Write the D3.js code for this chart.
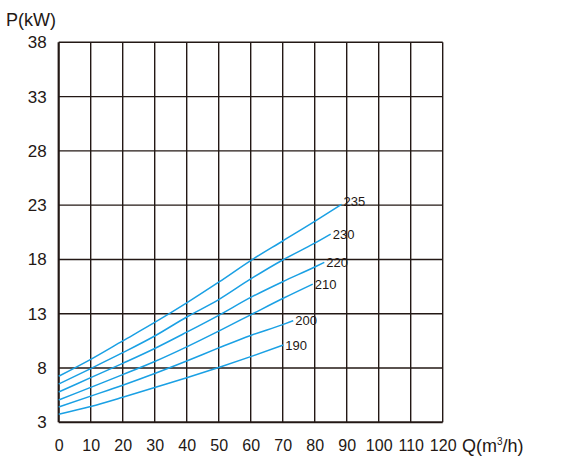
<!DOCTYPE html>
<html>
<head>
<meta charset="utf-8">
<script src="https://d3js.org/d3.v7.min.js"></script>
<style>
  body { margin: 0; background: #fff; }
  text { font-family: "Liberation Sans", Arial, sans-serif; fill: #231815; }
</style>
</head>
<body>
<div id="chart"></div>
<script>
// Data: flow Q (m3/h) vs shaft power P (kW), one curve per impeller diameter
var xTicks = [0, 10, 20, 30, 40, 50, 60, 70, 80, 90, 100, 110, 120];
var yTicks = [3, 8, 13, 18, 23, 28, 33, 38];

var curveNames = ["235", "230", "220", "210", "200", "190"];

var q235 = [0, 10, 20, 30, 40, 50, 60, 70, 80, 88.4];
var p235 = [7.24, 8.8, 10.5, 12.2, 14.0, 15.9, 17.9, 19.7, 21.5, 23.07];

var q230 = [0, 10, 20, 30, 40, 50, 60, 70, 80, 85];
var p230 = [6.53, 7.95, 9.41, 10.95, 12.7, 14.3, 16.2, 17.95, 19.5, 20.34];

var q220 = [0, 10, 20, 30, 40, 50, 60, 70, 80, 83];
var p220 = [5.79, 7.11, 8.43, 9.8, 11.3, 12.85, 14.5, 15.95, 17.3, 17.73];

var q210 = [0, 10, 20, 30, 40, 50, 60, 70, 79.4];
var p210 = [5.05, 6.22, 7.39, 8.6, 9.95, 11.4, 12.9, 14.4, 15.73];

var q200 = [0, 10, 20, 30, 40, 50, 60, 70, 73.3];
var p200 = [4.41, 5.41, 6.42, 7.5, 8.65, 9.85, 11.0, 12.0, 12.36];

var q190 = [0, 10, 20, 30, 40, 50, 60, 70.2];
var p190 = [3.74, 4.45, 5.3, 6.2, 7.1, 8.05, 9.05, 10.12];

var curveQ = [q235, q230, q220, q210, q200, q190];
var curveP = [p235, p230, p220, p210, p200, p190];

// SVG area
var svgWidth = 567;
var svgHeight = 467;

var margin = { top: 42.3, right: 124.3, bottom: 44.7, left: 58.7 };
var chartWidth = svgWidth - margin.left - margin.right;
var chartHeight = svgHeight - margin.top - margin.bottom;

var gridColor = "#231815";
var lineColor = "#1aa0e4";

var svg = d3.select("#chart")
  .append("svg")
  .attr("width", svgWidth)
  .attr("height", svgHeight);

var chartGroup = svg.append("g")
  .attr("transform", `translate(${margin.left}, ${margin.top})`);

var xScale = d3.scaleLinear().domain([0, 120]).range([0, chartWidth]);
var yScale = d3.scaleLinear().domain([3, 38]).range([chartHeight, 0]);

// grid lines
chartGroup.append("g")
  .selectAll("line")
  .data(xTicks)
  .enter()
  .append("line")
  .attr("x1", d => xScale(d))
  .attr("x2", d => xScale(d))
  .attr("y1", 0)
  .attr("y2", chartHeight)
  .attr("stroke", gridColor)
  .attr("stroke-width", d => d === 0 ? 2.2 : 1.4);

chartGroup.append("g")
  .selectAll("line")
  .data(yTicks)
  .enter()
  .append("line")
  .attr("x1", 0)
  .attr("x2", chartWidth)
  .attr("y1", d => yScale(d))
  .attr("y2", d => yScale(d))
  .attr("stroke", gridColor)
  .attr("stroke-width", d => d === 3 ? 2 : 1.4);

// axes (labels only, lines are the grid)
var bottomAxis = d3.axisBottom(xScale).tickValues(xTicks).tickSize(0).tickPadding(17);
var leftAxis = d3.axisLeft(yScale).tickValues(yTicks).tickSize(0).tickPadding(12);

var xAxisG = chartGroup.append("g")
  .attr("transform", `translate(0, ${chartHeight})`)
  .call(bottomAxis);
var yAxisG = chartGroup.append("g").call(leftAxis);

[xAxisG, yAxisG].forEach(function(g) {
  g.select(".domain").remove();
  g.selectAll("text")
    .attr("font-family", "'Liberation Sans', Arial, sans-serif")
    .attr("font-size", "16px")
    .attr("fill", gridColor);
});
yAxisG.selectAll("text").attr("font-size", "17px");

// power curves
var line = d3.line()
  .x(d => xScale(d[0]))
  .y(d => yScale(d[1]))
  .curve(d3.curveMonotoneX);

curveNames.forEach(function(name, i) {
  var pts = curveQ[i].map((q, j) => [q, curveP[i][j]]);
  chartGroup.append("path")
    .datum(pts)
    .attr("d", line)
    .attr("fill", "none")
    .attr("stroke", lineColor)
    .attr("stroke-width", 1.5);

  var last = pts[pts.length - 1];
  chartGroup.append("text")
    .attr("x", xScale(last[0]) + 2)
    .attr("y", yScale(last[1]) - (i === 0 ? 3 : 0))
    .attr("dy", "0.35em")
    .attr("font-size", "13px")
    .text(name);
});

// axis titles
svg.append("text")
  .attr("x", 6)
  .attr("y", 26)
  .attr("font-size", "18px")
  .text("P(kW)");

var qTitle = svg.append("text")
  .attr("x", 462)
  .attr("y", 452)
  .attr("font-size", "18px");
qTitle.append("tspan").text("Q(m");
qTitle.append("tspan").attr("font-size", "10px").attr("dy", "-7").text("3");
qTitle.append("tspan").attr("dy", "7").text("/h)");
</script>
</body>
</html>
